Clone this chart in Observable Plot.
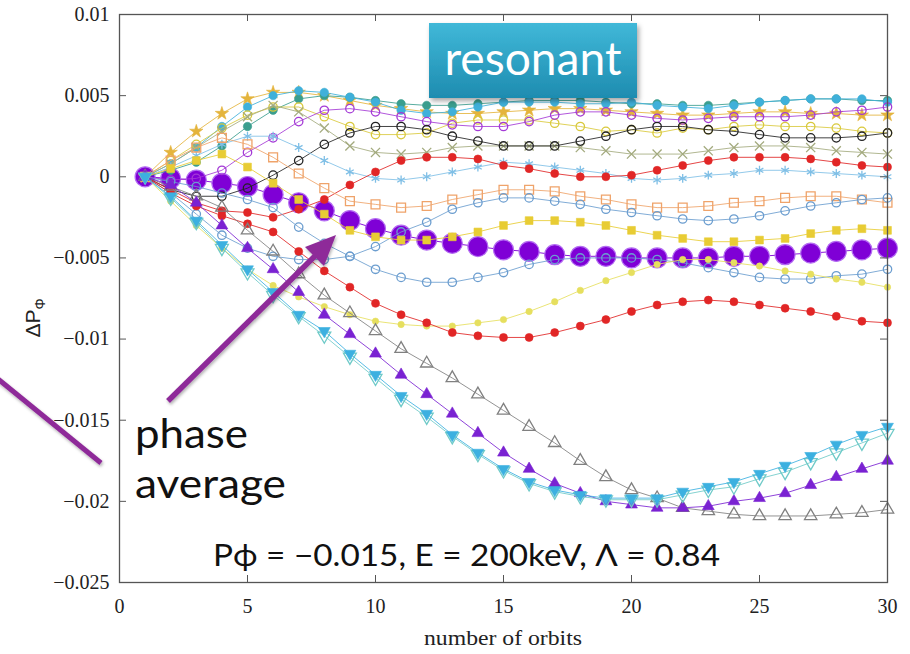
<!DOCTYPE html>
<html>
<head>
<meta charset="utf-8">
<script src="https://cdn.jsdelivr.net/npm/d3@7"></script>
<script src="https://cdn.jsdelivr.net/npm/@observablehq/plot@0.6"></script>
<style>
  html, body { margin: 0; padding: 0; background: #fff; }
  #wrap { position: relative; width: 910px; height: 654px; overflow: hidden; }
  #wrap > svg { position: absolute; left: 0; top: 0; }
</style>
</head>
<body>
<div id="wrap"></div>
<script>
// ---------- data (ΔPφ in units of 1e-3, orbits 1..30) ----------
const orbits = d3.range(1, 31);
const xTicks = [0, 5, 10, 15, 20, 25, 30];
const yTicks = [0.01, 0.005, 0, -0.005, -0.01, -0.015, -0.02, -0.025];

const phaseAverage  = [0,-0.1,-0.2,-0.4,-0.6,-1.1,-1.6,-2.1,-2.7,-3.2,-3.6,-3.9,-4.1,-4.3,-4.5,-4.6,-4.8,-4.9,-4.9,-5.0,-5.0,-5.0,-5.0,-4.9,-4.9,-4.8,-4.7,-4.6,-4.5,-4.4];
const goldStar      = [0,1.5,2.8,3.9,4.8,5.2,5.2,5.0,4.7,4.4,4.2,4.0,3.9,3.9,4.0,4.1,4.2,4.2,4.1,4.0,3.9,3.8,3.8,3.9,4.0,4.0,3.9,3.9,3.8,3.8];
const cyanCircle    = [0,0.8,1.8,3.1,4.3,5.0,5.3,5.2,4.9,4.6,4.1,3.9,4.0,4.3,4.6,4.6,4.6,4.5,4.5,4.6,4.4,4.3,4.2,4.4,4.6,4.7,4.8,4.8,4.8,4.6];
const tealCircle    = [0,0.4,0.9,1.9,3.1,4.1,4.8,5.0,4.9,4.7,4.5,4.4,4.4,4.5,4.6,4.7,4.7,4.7,4.6,4.5,4.5,4.4,4.4,4.5,4.6,4.7,4.8,4.8,4.7,4.7];
const magentaOpen   = [0,-0.2,-0.1,0.4,1.5,2.4,3.4,4.1,4.2,4.0,3.7,3.4,3.2,3.1,3.1,3.4,3.8,4.0,4.0,3.8,3.6,3.5,3.6,3.7,3.7,3.7,3.8,4.0,4.1,4.3];
const yellowOpen    = [0,1.0,2.0,3.0,3.8,4.3,4.3,3.7,3.1,2.6,2.6,2.7,3.3,3.5,3.5,3.5,3.3,3.1,2.8,2.9,2.7,3.0,2.9,3.1,3.2,3.1,3.1,3.0,2.8,2.7];
const blackOpen     = [0,-0.8,-1.2,-1.2,-0.7,0.1,1.0,2.0,2.7,3.1,3.1,2.9,2.5,2.2,1.9,1.9,1.9,2.2,2.5,2.9,3.1,3.1,2.9,2.8,2.6,2.4,2.4,2.4,2.5,2.7];
const oliveCross    = [0,0.8,1.8,2.8,3.7,4.4,4.0,3.0,1.9,1.5,1.4,1.5,1.8,1.9,1.9,1.9,1.9,1.8,1.6,1.4,1.4,1.4,1.6,1.8,1.9,1.9,1.8,1.6,1.5,1.4];
const redUpper      = [0,-0.8,-1.6,-2.1,-2.2,-2.5,-2.0,-1.4,-0.5,0.3,1.0,1.2,1.2,1.1,0.7,0.5,0.2,0.0,0.0,0.1,0.4,0.7,1.0,1.2,1.2,1.2,1.1,0.9,0.7,0.6];
const skyAsterisk   = [0,0.6,1.3,2.0,2.5,2.5,1.8,1.0,0.3,-0.1,-0.2,0.0,0.3,0.6,0.9,0.8,0.6,0.4,0.2,-0.1,-0.2,-0.1,0.1,0.2,0.4,0.4,0.3,0.2,0.1,0.0];
const orangeSquare  = [0,1.0,1.8,2.4,2.0,1.2,0.2,-0.7,-1.5,-1.7,-1.9,-1.8,-1.4,-1.1,-0.8,-0.8,-0.9,-1.2,-1.4,-1.7,-1.9,-1.9,-1.8,-1.6,-1.5,-1.3,-1.2,-1.2,-1.4,-1.6];
const blueOpenUp    = [0,-1.0,-2.3,-3.6,-4.4,-4.9,-5.1,-5.1,-4.9,-4.3,-3.4,-2.8,-2.0,-1.6,-1.3,-1.3,-1.5,-1.7,-2.0,-2.2,-2.4,-2.6,-2.7,-2.6,-2.4,-2.1,-1.8,-1.6,-1.4,-1.3];
const blueOpenDown  = [0,-0.3,-0.6,-1.0,-1.4,-1.9,-3.1,-4.1,-4.9,-5.7,-6.2,-6.5,-6.5,-6.2,-5.9,-5.4,-5.1,-5.0,-5.0,-5.0,-5.1,-5.3,-5.6,-5.9,-6.2,-6.3,-6.3,-6.1,-6.0,-5.7];
const yellowSquare  = [0,0.5,1.0,1.4,0.6,-0.4,-1.4,-2.3,-3.3,-3.7,-3.9,-3.9,-3.7,-3.4,-3.0,-2.7,-2.7,-2.8,-3.0,-3.3,-3.6,-3.8,-4.0,-4.0,-3.9,-3.8,-3.5,-3.3,-3.2,-3.3];
const yellowDot     = [0,-1.5,-3.0,-4.4,-5.7,-6.7,-7.4,-8.0,-8.5,-8.9,-9.1,-9.2,-9.2,-9.0,-8.8,-8.3,-7.7,-7.0,-6.4,-5.9,-5.4,-5.1,-5.1,-5.3,-5.5,-5.8,-6.0,-6.3,-6.5,-6.8];
const redLower      = [0,-1.0,-1.8,-2.4,-2.9,-3.4,-4.6,-5.8,-6.8,-7.8,-8.5,-9.0,-9.6,-9.8,-9.9,-9.9,-9.6,-9.2,-8.8,-8.3,-7.9,-7.7,-7.6,-7.7,-7.9,-8.1,-8.3,-8.6,-8.9,-9.0];
const grayTriangle  = [0,-0.6,-1.2,-1.9,-3.3,-4.6,-6.0,-7.3,-8.4,-9.5,-10.6,-11.5,-12.4,-13.4,-14.4,-15.4,-16.4,-17.5,-18.5,-19.3,-19.8,-20.4,-20.6,-20.8,-20.9,-20.9,-20.9,-20.8,-20.7,-20.5];
const purpleTriangle= [0,-0.5,-1.6,-3.0,-4.4,-5.7,-7.1,-8.5,-9.7,-10.9,-12.2,-13.4,-14.6,-15.8,-17.0,-18.0,-18.9,-19.5,-20.0,-20.2,-20.4,-20.4,-20.3,-20.0,-19.8,-19.5,-19.0,-18.5,-18.0,-17.5];
const cyanTriDown   = [0,-1.2,-2.7,-4.2,-5.7,-7.1,-8.5,-9.5,-10.9,-12.2,-13.5,-14.6,-15.9,-17.0,-18.0,-18.8,-19.3,-19.6,-19.8,-19.8,-19.8,-19.4,-19.1,-18.8,-18.3,-17.8,-17.2,-16.5,-15.9,-15.4];
const tealTriDown   = [0,-1.3,-2.8,-4.4,-5.9,-7.3,-8.6,-9.8,-11.1,-12.4,-13.7,-14.8,-16.0,-17.1,-18.1,-18.9,-19.4,-19.7,-19.9,-19.9,-19.9,-19.6,-19.3,-19.1,-18.6,-18.2,-17.6,-17.0,-16.4,-15.8];

// ---------- styles (kept apart from the data) ----------
const sqrt3 = Math.sqrt(3);
const triangleDown = {
  draw(context, size) {
    const y = Math.sqrt(size / (sqrt3 * 3));
    context.moveTo(0, y * 2);
    context.lineTo(-sqrt3 * y, -y);
    context.lineTo(sqrt3 * y, -y);
    context.closePath();
  }
};
const seriesList = [
  ["goldStar",       goldStar,       "#e4b43c", "star",     "fill",   4.2],
  ["tealCircle",     tealCircle,     "#3a9e8e", "circle",   "fill",   4.2],
  ["cyanCircle",     cyanCircle,     "#3fb0da", "circle",   "fill",   4.2],
  ["yellowOpen",     yellowOpen,     "#d9c93c", "circle",   "stroke", 4.2],
  ["magentaOpen",    magentaOpen,    "#a43ad6", "circle",   "stroke", 4.2],
  ["oliveCross",     oliveCross,     "#a3aa7e", "times",    "stroke", 4.2],
  ["blackOpen",      blackOpen,      "#222222", "circle",   "stroke", 4.2],
  ["skyAsterisk",    skyAsterisk,    "#7fbfe6", "asterisk", "stroke", 4.2],
  ["redUpper",       redUpper,       "#e12626", "circle",   "fill",   4.0],
  ["orangeSquare",   orangeSquare,   "#efa36a", "square",   "stroke", 5.0],
  ["blueOpenUp",     blueOpenUp,     "#6b9dcf", "circle",   "stroke", 4.2],
  ["yellowSquare",   yellowSquare,   "#e8cc34", "square",   "fill",   4.4],
  ["blueOpenDown",   blueOpenDown,   "#6b9dcf", "circle",   "stroke", 4.2],
  ["yellowDot",      yellowDot,      "#e6df5e", "circle",   "fill",   3.2],
  ["redLower",       redLower,       "#e12626", "circle",   "fill",   4.0],
  ["grayTriangle",   grayTriangle,   "#808080", "triangle", "stroke", 4.6],
  ["purpleTriangle", purpleTriangle, "#7a22d2", "triangle", "fill",   4.4],
  ["tealTriDown",    tealTriDown,    "#6fcac8", triangleDown, "stroke", 4.8],
  ["cyanTriDown",    cyanTriDown,    "#3cb0e0", triangleDown, "fill",   4.4]
];

const toRows = (key, values) => values.map((v, i) => ({key, orbit: orbits[i], dP: v / 1000}));
const avgRows = toRows("phaseAverage", phaseAverage);

// tick length in data units (gnuplot-style inward ticks)
const W = 910, H = 654, mL = 119, mR = 23, mT = 14, mB = 72;
const xDom = [0, 30], yDom = [-0.025, 0.01];
const tLenX = (xDom[1] - xDom[0]) * 7 / (W - mL - mR);
const tLenY = (yDom[1] - yDom[0]) * 7 / (H - mT - mB);

const fmtY = d => d === 0 ? "0" : (d < 0 ? "\u2212" : "") + String(+Math.abs(d).toFixed(3));

const marks = [
  Plot.line(avgRows, {x: "orbit", y: "dP", stroke: "#8a18d8", strokeWidth: 1}),
  Plot.dot(avgRows, {x: "orbit", y: "dP", r: 10, fill: "#7f00d6", stroke: "#b46cf2", strokeWidth: 1.2})
];
for (const [key, values, color, symbol, mode, r] of seriesList) {
  const rows = toRows(key, values);
  marks.push(Plot.line(rows, {x: "orbit", y: "dP", stroke: color, strokeWidth: 1, strokeOpacity: 0.85}));
  marks.push(Plot.dot(rows, {
    x: "orbit", y: "dP", symbol, r,
    fill: mode === "fill" ? color : "none",
    stroke: color, strokeWidth: mode === "fill" ? 0.6 : 1.3
  }));
}
marks.push(
  Plot.frame({stroke: "#555", strokeWidth: 1.3}),
  Plot.ruleX(xTicks, {x: d => d, y1: yDom[0], y2: yDom[0] + tLenY, stroke: "#555"}),
  Plot.ruleX(xTicks, {x: d => d, y1: yDom[1] - tLenY, y2: yDom[1], stroke: "#555"}),
  Plot.ruleY(yTicks, {y: d => d, x1: xDom[0], x2: xDom[0] + tLenX, stroke: "#555"}),
  Plot.ruleY(yTicks, {y: d => d, x1: xDom[1] - tLenX, x2: xDom[1], stroke: "#555"}),
  Plot.axisX({ticks: xTicks, tickSize: 0, tickPadding: 16, label: null, tickFormat: d => String(d)}),
  Plot.axisY({ticks: yTicks, tickSize: 0, tickPadding: 10, label: null, tickFormat: fmtY})
);

const chart = Plot.plot({
  width: W, height: H,
  marginLeft: mL, marginRight: mR, marginTop: mT, marginBottom: mB,
  x: {domain: xDom},
  y: {domain: yDom},
  style: {fontFamily: "'Liberation Serif', 'DejaVu Serif', serif", fontSize: "20px", color: "#222", background: "white"},
  marks
});
const wrap = document.getElementById("wrap");
wrap.appendChild(chart);

// ---------- annotations overlay ----------
const ns = "http://www.w3.org/2000/svg";
const ann = document.createElementNS(ns, "svg");
ann.setAttribute("width", W);
ann.setAttribute("height", H);
ann.innerHTML = `
  <defs>
    <linearGradient id="boxg" x1="0" y1="0" x2="0" y2="1">
      <stop offset="0" stop-color="#40b8d8"/>
      <stop offset="1" stop-color="#1e8cb0"/>
    </linearGradient>
    <filter id="shadow" x="-20%" y="-20%" width="140%" height="160%">
      <feDropShadow dx="2" dy="3" stdDeviation="2.5" flood-color="#000" flood-opacity="0.35"/>
    </filter>
    <filter id="ashadow" x="-20%" y="-20%" width="140%" height="140%">
      <feDropShadow dx="1" dy="2" stdDeviation="1.5" flood-color="#000" flood-opacity="0.3"/>
    </filter>
  </defs>
  <rect x="429" y="23" width="208" height="75" fill="url(#boxg)" filter="url(#shadow)"/>
  <text x="533" y="75" text-anchor="middle" fill="#fff" font-family="Lato, 'Open Sans', sans-serif" font-size="46" textLength="177" lengthAdjust="spacingAndGlyphs">resonant</text>
  <g filter="url(#ashadow)">
    <line x1="-2" y1="379" x2="101" y2="463" stroke="#8e2b99" stroke-width="5"/>
    <line x1="168" y1="401" x2="316" y2="255" stroke="#8e2b99" stroke-width="5.5"/>
    <polygon points="336,235 324,266 305,247" fill="#8e2b99"/>
  </g>
  <g font-family="Lato, 'Open Sans', sans-serif" fill="#111">
    <text x="135" y="448" font-size="40" textLength="113" lengthAdjust="spacingAndGlyphs">phase</text>
    <text x="135" y="498" font-size="40" textLength="151" lengthAdjust="spacingAndGlyphs">average</text>
    <text x="213" y="566" font-size="31" textLength="507" lengthAdjust="spacingAndGlyphs">P\u03d5 = \u22120.015, E = 200keV, \u039b = 0.84</text>
  </g>
  <text x="503" y="645" text-anchor="middle" font-family="'Liberation Serif', serif" font-size="20" fill="#222" textLength="158" lengthAdjust="spacingAndGlyphs">number of orbits</text>
  <text transform="translate(40,318) rotate(-90)" text-anchor="middle" font-family="'Liberation Sans', 'DejaVu Sans', sans-serif" font-size="21" fill="#222">\u0394P<tspan font-size="14" dy="5">\u03a6</tspan></text>
`;
wrap.appendChild(ann);
</script>
</body>
</html>
